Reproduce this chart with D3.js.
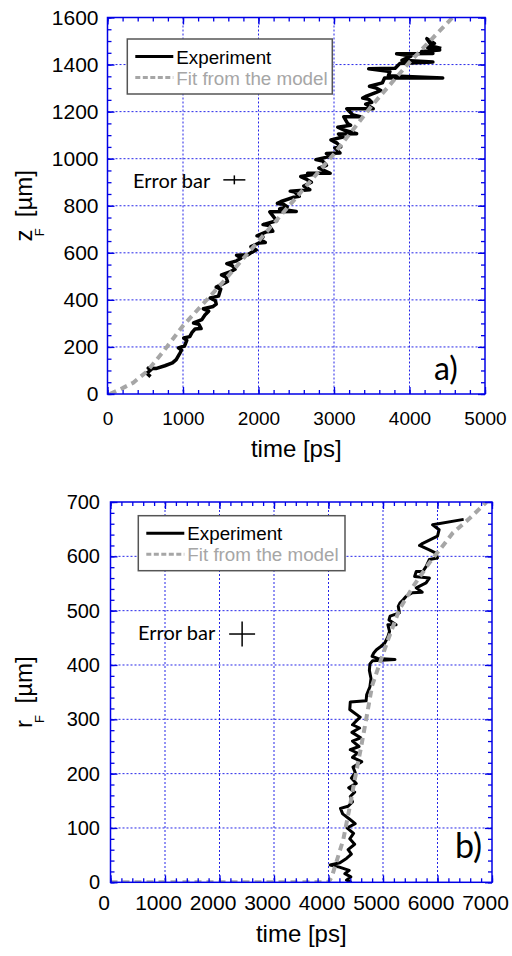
<!DOCTYPE html>
<html>
<head>
<meta charset="utf-8">
<script src="https://cdn.jsdelivr.net/npm/d3@7"></script>
<style>
  body { margin: 0; background: #fff; }
  svg { display: block; }
</style>
</head>
<body>
<svg id="chart" width="512" height="956"></svg>
<script>
// ---- panel a) : z_F against time
var timeTicksA = [0, 1000, 2000, 3000, 4000, 5000];
var zTicks = [0, 200, 400, 600, 800, 1000, 1200, 1400, 1600];
var expA = [[570,74],[520,88],[580,104],[540,110],[640,108],[760,120],[860,132],[910,146],[950,168],[980,186],[940,196],
  [1020,204],[1050,228],[1010,238],[1090,244],[1120,262],[1160,276],[1240,278],[1210,296],[1140,302],[1250,316],
  [1290,336],[1340,352],[1270,362],[1400,372],[1440,382],[1430,396],[1360,408],[1470,416],[1500,446],[1440,454],
  [1540,470],[1590,478],[1570,496],[1510,506],[1630,520],[1690,530],[1650,546],[1580,554],[1710,566],[1770,578],
  [1710,590],[1860,592],[1910,602],[1970,612],[1900,626],[2010,642],[2090,644],[2030,656],[2060,668],[1980,672],
  [2110,690],[2190,692],[2140,716],[2060,720],[2240,736],[2150,774],[2500,776],[2280,786],[2380,796],[2330,806],
  [2250,810],[2300,818],[2460,836],[2540,840],[2480,858],[2420,862],[2680,868],[2600,884],[2700,900],[2640,912],
  [2560,924],[2740,934],[2650,938],[2950,938],[2800,960],[2900,972],[2850,990],[2760,996],[2950,1010],[2900,1022],
  [3080,1024],[3010,1046],[3090,1050],[3040,1066],[2960,1080],[3120,1092],[3060,1105],[3300,1106],[3130,1122],
  [3050,1134],[3220,1142],[3180,1150],[3130,1178],[3350,1178],[3250,1186],[3170,1212],[3520,1212],[3420,1232],
  [3500,1240],[3460,1252],[3380,1258],[3430,1266],[3560,1282],[3620,1290],[3560,1300],[3470,1308],[3640,1322],
  [3670,1343],[4440,1343],[3720,1352],[3740,1370],[3460,1382],[3810,1384],[3870,1404],[4310,1411],[3900,1418],
  [4020,1436],[3830,1446],[4310,1447],[4160,1456],[4400,1462],[4240,1472],[4330,1490],[4230,1510],[4300,1478],
  [4420,1468]];
var fitA = [[30,0],[200,25],[340,48],[520,95],[750,185],[1000,290],[1500,465],[2000,650],[2500,835],[3000,1020],
  [3500,1225],[4000,1410],[4600,1610]];
var errorBarA = [1680, 910, 146, 19];   // time, z, half width, half height

// ---- panel b) : r_F against time
var timeTicksB = [0, 1000, 2000, 3000, 4000, 5000, 6000, 7000];
var rTicks = [0, 100, 200, 300, 400, 500, 600, 700];
var expB = [[4420,0],[4330,4],[4410,10],[4300,16],[4380,22],[4200,28],[4030,32],[4210,36],[4330,44],[4420,52],
  [4360,60],[4480,70],[4390,80],[4460,90],[4340,100],[4490,108],[4390,116],[4260,126],[4220,136],[4360,140],
  [4440,148],[4400,158],[4480,166],[4370,174],[4510,182],[4420,192],[4490,202],[4450,212],[4610,222],[4440,230],
  [4530,238],[4400,244],[4560,250],[4440,260],[4590,266],[4430,276],[4570,284],[4440,290],[4520,298],[4580,304],
  [4470,312],[4390,318],[4400,332],[4690,334],[4700,345],[4760,360],[4780,375],[4750,390],[4760,402],[4810,408],
  [5220,410],[4900,412],[4800,416],[4830,422],[4880,428],[4960,434],[5030,440],[5090,452],[5120,462],[5090,474],
  [5240,474],[5110,483],[5130,490],[5300,496],[5280,508],[5310,514],[5370,520],[5430,527],[5540,533],[5720,534],
  [5610,542],[5790,551],[5850,560],[5580,563],[5610,572],[5730,572],[5790,581],[5850,594],[6000,597],[5970,606],
  [5850,612],[5670,620],[5730,624],[6000,637],[6030,649],[5910,658],[6480,668]];
var fitB = [[0,0],[4000,0],[4060,10],[4270,78],[4390,139],[4480,188],[4600,250],[4700,305],[4800,362],[4940,403],
  [5090,446],[5300,502],[5550,544],[5850,588],[6040,612],[6280,643],[6590,670],[6900,700]];
var errorBarB = [2415, 457, 238, 23];

var legendLabels = ["Experiment", "Fit from the model"];

var svg = d3.select("#chart");
var blue = "#0000e6";
var sans = "'Liberation Sans', Arial, sans-serif";
var calib = "Lato, 'Open Sans', sans-serif";

function panel(o) {
    var g = svg.append("g");
    var x = d3.scaleLinear().domain([0, o.xTicks[o.xTicks.length - 1]]).range([o.left, o.right]);
    var y = d3.scaleLinear().domain([0, o.yTicks[o.yTicks.length - 1]]).range([o.bottom, o.top]);

    var clipId = "clip" + o.id;
    svg.append("clipPath").attr("id", clipId).append("rect")
        .attr("x", o.left).attr("y", o.top)
        .attr("width", o.right - o.left).attr("height", o.bottom - o.top);

    // dotted grid
    g.selectAll("line.gx").data(o.xTicks.slice(1, -1)).join("line")
        .attr("x1", d => x(d)).attr("x2", d => x(d))
        .attr("y1", o.top).attr("y2", o.bottom);
    g.selectAll("line.gy").data(o.yTicks.slice(1, -1)).join("line")
        .attr("y1", d => y(d)).attr("y2", d => y(d))
        .attr("x1", o.left).attr("x2", o.right);
    g.selectAll("line").attr("stroke", blue).attr("stroke-width", 1)
        .attr("stroke-dasharray", "2,2").attr("opacity", 0.85);

    var line = d3.line().x(d => x(d[0])).y(d => y(d[1]));

    g.append("path").datum(o.exp)
        .attr("clip-path", "url(#" + clipId + ")")
        .attr("d", line).attr("fill", "none").attr("stroke", "#000")
        .attr("stroke-width", o.expWidth).attr("stroke-linejoin", "round");

    g.append("path").datum(o.fit)
        .attr("clip-path", "url(#" + clipId + ")")
        .attr("d", line).attr("fill", "none").attr("stroke", "#a6a6a6")
        .attr("stroke-width", 4).attr("stroke-dasharray", "7,5");

    // axes, ticks pointing inwards on all four sides
    var minorX = d3.range(0, x.domain()[1] + 1, o.minorX);
    var minorY = d3.range(0, y.domain()[1] + 1, o.minorY);
    function ax(gen, scale, vals, size, fmt, tr) {
        var a = g.append("g").attr("transform", tr)
            .call(gen(scale).tickValues(vals).tickSize(-size).tickSizeOuter(0).tickFormat(fmt));
        a.select(".domain").remove();
        a.selectAll("line").attr("stroke", blue).attr("stroke-width", 1.3);
        return a;
    }
    ax(d3.axisBottom, x, minorX, 4, "", "translate(0," + o.bottom + ")");
    ax(d3.axisTop, x, minorX, 4, "", "translate(0," + o.top + ")");
    ax(d3.axisLeft, y, minorY, 4, "", "translate(" + o.left + ",0)");
    ax(d3.axisRight, y, minorY, 4, "", "translate(" + o.right + ",0)");
    var bx = ax(d3.axisBottom, x, o.xTicks, 7, d3.format("d"), "translate(0," + o.bottom + ")");
    ax(d3.axisTop, x, o.xTicks, 7, "", "translate(0," + o.top + ")");
    var ly = ax(d3.axisLeft, y, o.yTicks, 7, d3.format("d"), "translate(" + o.left + ",0)");
    ax(d3.axisRight, y, o.yTicks, 7, "", "translate(" + o.right + ",0)");

    bx.selectAll("text").attr("y", o.xLabelPad).attr("dx", o.xLabelShift)
        .attr("font-family", sans).attr("font-size", o.xFont).attr("fill", "#000");
    ly.selectAll("text").attr("x", -o.yLabelPad)
        .attr("font-family", sans).attr("font-size", o.yFont).attr("fill", "#000");

    g.append("rect").attr("x", o.left).attr("y", o.top)
        .attr("width", o.right - o.left).attr("height", o.bottom - o.top)
        .attr("fill", "none").attr("stroke", blue).attr("stroke-width", 1.5);

    // axis titles
    g.append("text").attr("x", (o.left + o.right) / 2).attr("y", o.xTitleY)
        .attr("text-anchor", "middle").attr("font-family", sans).attr("font-size", 24)
        .text("time [ps]");
    var yt = g.append("text")
        .attr("transform", "translate(32," + o.yTitleStart + ") rotate(-90)")
        .attr("font-family", sans).attr("font-size", 24);
    yt.append("tspan").text(o.yVar);
    yt.append("tspan").attr("font-size", 13).attr("dx", o.subDx).attr("dy", 12).text("F");
    yt.append("tspan").attr("dx", o.restDx).attr("dy", -12).text(" [\u00b5m]");

    // legend
    var lg = g.append("g").attr("transform", "translate(" + o.legX + "," + o.legY + ")");
    lg.append("rect").attr("width", o.legW).attr("height", 55)
        .attr("fill", "#fff").attr("stroke", "#555").attr("stroke-width", 1.5);
    lg.append("line").attr("x1", 8).attr("x2", 46).attr("y1", 17.5).attr("y2", 17.5)
        .attr("stroke", "#000").attr("stroke-width", 3);
    lg.append("line").attr("x1", 8).attr("x2", 46).attr("y1", 38.5).attr("y2", 38.5)
        .attr("stroke", "#a6a6a6").attr("stroke-width", 3).attr("stroke-dasharray", "5,2.5");
    lg.selectAll("text").data(legendLabels).join("text")
        .attr("x", 49).attr("y", (d, i) => 24.5 + i * 21)
        .attr("font-family", sans).attr("font-size", 18.8)
        .attr("fill", (d, i) => i ? "#a6a6a6" : "#000")
        .text(d => d);

    // error bar sample
    var e = o.err;
    g.append("line").attr("x1", x(e[0] - e[2])).attr("x2", x(e[0] + e[2]))
        .attr("y1", y(e[1])).attr("y2", y(e[1]));
    g.append("line").attr("x1", x(e[0])).attr("x2", x(e[0]))
        .attr("y1", y(e[1] - e[3])).attr("y2", y(e[1] + e[3]));
    g.selectAll("line:not([stroke])").attr("stroke", "#000").attr("stroke-width", 1.5);
    g.append("text").attr("x", o.errTextX).attr("y", o.errTextY)
        .attr("font-family", calib).attr("font-size", 20).text("Error bar");

    g.append("text").attr("x", o.tagX).attr("y", o.tagY)
        .attr("font-family", calib).attr("font-size", o.tagFont).text(o.tag);
}

panel({
    id: "a", xTicks: timeTicksA, yTicks: zTicks, exp: expA, fit: fitA, err: errorBarA, expWidth: 3.5,
    left: 107.5, right: 485, top: 17.5, bottom: 394, minorX: 200, minorY: 50,
    xLabelPad: 17.5, xLabelShift: 0, xFont: 19, yLabelPad: 9, yFont: 21,
    xTitleY: 457, yVar: "z", yTitleStart: 241.5, subDx: -6.8, restDx: 4.5,
    legX: 127.3, legY: 39, legW: 205,
    errTextX: 133, errTextY: 188, tag: "a)", tagX: 434, tagY: 380, tagFont: 32
});

panel({
    id: "b", xTicks: timeTicksB, yTicks: rTicks, exp: expB, fit: fitB, err: errorBarB, expWidth: 3,
    left: 110.5, right: 492, top: 502, bottom: 882.3, minorX: 200, minorY: 20,
    xLabelPad: 12.5, xLabelShift: -7, xFont: 21, yLabelPad: 10.5, yFont: 20,
    xTitleY: 941.5, yVar: "r", yTitleStart: 728, subDx: -3, restDx: 5,
    legX: 138.3, legY: 515.7, legW: 206.7,
    errTextX: 138, errTextY: 640, tag: "b)", tagX: 455, tagY: 858, tagFont: 34
});
</script>
</body>
</html>
